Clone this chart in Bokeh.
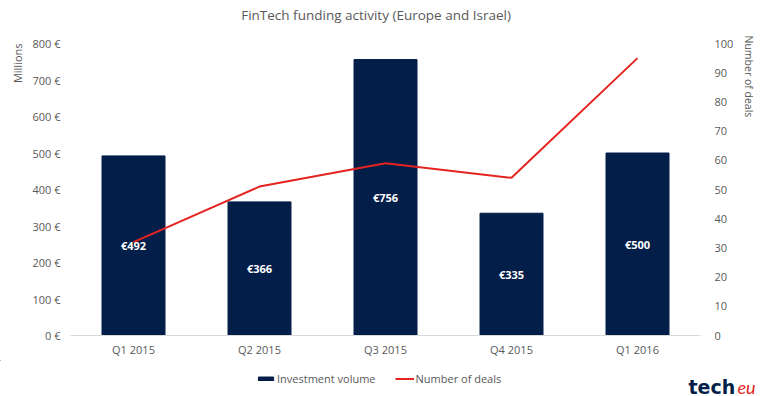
from bokeh.plotting import figure
from bokeh.layouts import column, row
from bokeh.models import (Range1d, FactorRange, LinearAxis, PrintfTickFormatter, Legend,
                          LegendItem, Label, ColumnDataSource, SingleIntervalTicker, Title)
from bokeh.embed import file_html
from bokeh.resources import INLINE
from bokeh.core.properties import value

quarters = ["Q1 2015", "Q2 2015", "Q3 2015", "Q4 2015", "Q1 2016"]
volume = [492, 366, 756, 335, 500]
deals = [32, 51, 59, 54, 95]
volume_labels = ["€492", "€366", "€756", "€335", "€500"]

NAVY = "#041e4a"
RED = "#e52421"
GRAY = "#595959"
FONT = "Open Sans"


def blank(width, height, x_range, y_range):
    fig = figure(width=width, height=height, x_range=x_range, y_range=y_range,
                 output_backend="svg", toolbar_location=None, min_border=0,
                 x_axis_location=None, y_axis_location=None, title_location=None)
    fig.grid.visible = False
    fig.outline_line_color = None
    return fig


# header with the chart title
h = blank(762, 28, Range1d(0, 1), Range1d(28, 0))
h.add_layout(Label(x=0.485, y=14, text="FinTech funding activity (Europe and Israel)",
                   text_align="center", text_baseline="middle", text_font=FONT,
                   text_font_size="13.5px", text_color=GRAY))

src = ColumnDataSource(dict(q=quarters, v=volume, d=deals, lab=volume_labels,
                            mid=[v / 2 for v in volume]))

p = figure(width=762, height=332, x_range=FactorRange(*quarters), y_range=Range1d(0, 800),
           output_backend="svg", toolbar_location=None, title_location=None,
           min_border_left=70, min_border_right=57, min_border_top=15, min_border_bottom=25)
p.outline_line_color = None
p.grid.visible = False
p.extra_y_ranges = {"deals": Range1d(0, 100)}

bars = p.vbar(x="q", top="v", width=0.5, source=src, color=NAVY)
line = p.line(x="q", y="d", source=src, y_range_name="deals", line_color=RED, line_width=2)
p.text(x="q", y="mid", text="lab", source=src, text_color="white", text_font=value(FONT),
       text_font_style="bold", text_font_size="11px", text_align="center", text_baseline="middle")

ya = p.yaxis[0]
ya.ticker = SingleIntervalTicker(interval=100)
ya.formatter = PrintfTickFormatter(format="%d €")
ya.major_label_standoff = 4

ra = LinearAxis(y_range_name="deals", ticker=SingleIntervalTicker(interval=10))
ra.major_label_standoff = 8
p.add_layout(ra, "right")

for ax in (ya, ra):
    ax.axis_line_color = None
    ax.major_tick_line_color = None
    ax.minor_tick_line_color = None
    ax.major_label_text_font = FONT
    ax.major_label_text_font_size = "11px"
    ax.major_label_text_color = GRAY

# axis titles as side-panel titles
p.add_layout(Title(text="Millions", align="right", offset=0, vertical_align="bottom", standoff=10,
                   text_font=FONT, text_font_size="11px", text_font_style="normal",
                   text_color=GRAY), "left")
p.add_layout(Title(text="Number of deals", align="left", offset=-8, vertical_align="bottom",
                   standoff=10, text_font=FONT, text_font_size="10.5px", text_font_style="normal",
                   text_color=GRAY), "right")

xa = p.xaxis[0]
xa.axis_line_color = "#d9d9d9"
xa.major_tick_line_color = None
xa.minor_tick_line_color = None
xa.major_label_text_font = FONT
xa.major_label_text_font_size = "11px"
xa.major_label_text_color = GRAY
xa.major_label_standoff = 0

# footer: legend (left part) and logo (right part), coordinates in page pixels
f = blank(680, 36, Range1d(0, 680), Range1d(396, 360))
sw_bar = f.vbar(x=[-1000], top=[0], width=1, color=NAVY)
sw_line = f.line(x=[-1000], y=[0], line_color=RED, line_width=2)
legend = Legend(items=[LegendItem(label="Investment volume", renderers=[sw_bar]),
                       LegendItem(label="Number of deals", renderers=[sw_line])],
                orientation="horizontal", location=(256, 10), border_line_color=None,
                background_fill_alpha=0,
                label_text_font=FONT, label_text_font_size="11px", label_text_color=GRAY,
                glyph_width=19, glyph_height=5, spacing=19, padding=2, margin=0,
                label_standoff=2)
f.add_layout(legend, "center")

g = blank(82, 36, Range1d(680, 762), Range1d(396, 360))
g.add_layout(Label(x=688, y=386, text="tech", text_align="left", text_baseline="alphabetic",
                   text_font="DejaVu Sans", text_font_style="bold", text_font_size="19px",
                   text_color=NAVY))
g.add_layout(Label(x=737, y=386, text="eu", text_align="left", text_baseline="alphabetic",
                   text_font="Lato", text_font_style="italic", text_font_size="18px",
                   text_color=RED))

open("out.html", "w").write(file_html(column(h, p, row(f, g, spacing=0), spacing=0), INLINE))
